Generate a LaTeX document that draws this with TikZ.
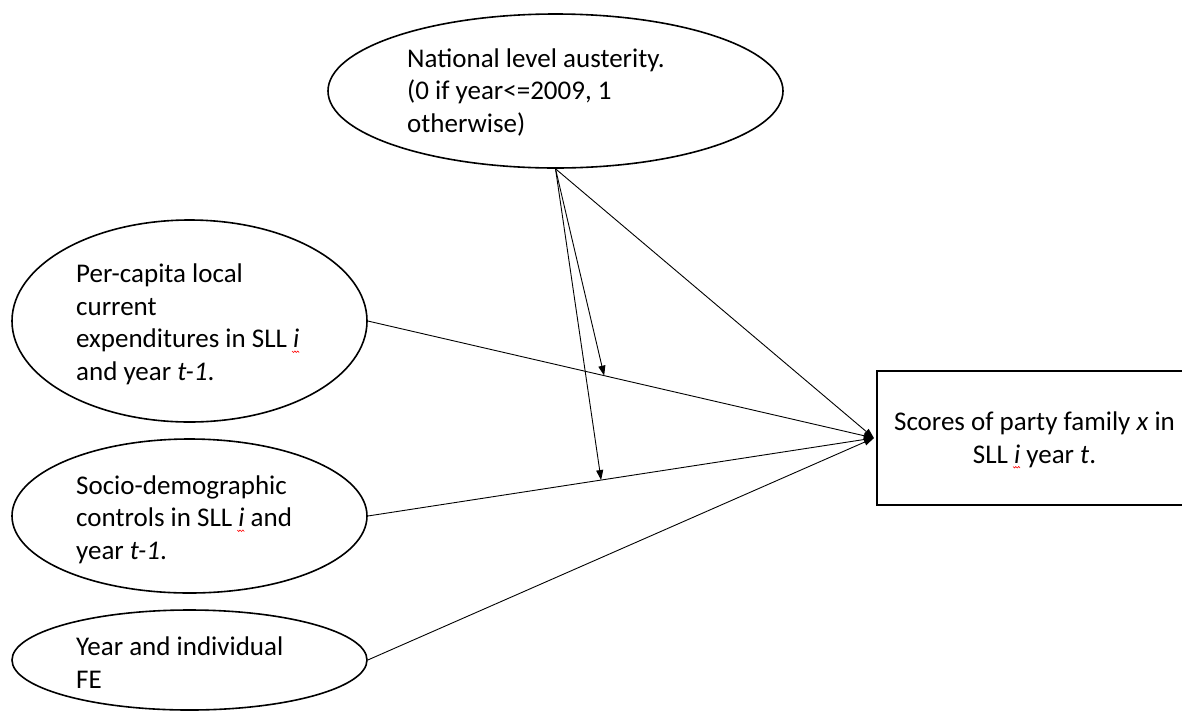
\documentclass[tikz,border=0pt]{standalone}
\usepackage{fontspec}
\setmainfont{Carlito}
\usetikzlibrary{shapes.geometric,arrows.meta,calc}
\newcommand\spellmark[1]{#1\llap{\tikz[x=1pt,y=1pt,baseline=0pt]\draw[red,line width=0.6pt] (0,-3.5)--(1.4,-5)--(2.8,-3.5)--(4.2,-5)--(5.6,-3.5)--(7,-5);}}
\tikzset{
  oval/.style={ellipse, draw, line width=1.6pt, inner sep=0pt},
  txt/.style={inner sep=0pt, align=left, font=\fontsize{27}{32.5}\selectfont},
  link/.style={line width=0.9pt, -{Triangle[length=10pt,width=7pt]}},
}
\begin{document}
\begin{tikzpicture}[x=1pt,y=-1pt]
\useasboundingbox (0,0) rectangle (1182,713);
\clip (0,0) rectangle (1182,713);
\node[oval, minimum width=455pt, minimum height=154pt] (e0) at (555.5,91) {};
\node[oval, minimum width=355pt, minimum height=202pt] (e1) at (189.5,321) {};
\node[oval, minimum width=355pt, minimum height=154pt] (e2) at (189.5,516) {};
\node[oval, minimum width=355pt, minimum height=100pt] (e3) at (189.5,660) {};
\node[draw, line width=2.2pt, minimum width=315pt, minimum height=134pt, inner sep=0pt] (box) at (1034.5,438) {};

% anchors at the baseline of the last line
\node[txt, anchor=base west] (t0) at (407,132) {National level austerity.\\(0 if year<=2009, 1\\otherwise)};
\node[txt, anchor=base west] (t1) at (76,380) {Per-capita local\\current\\expenditures in SLL \spellmark{\textit{i}}\\and year \textit{t-1}.};
\node[txt, anchor=base west] (t2) at (76,559) {Socio-demographic\\controls in SLL \spellmark{\textit{i}} and\\year \textit{t-1}.};
\node[txt, anchor=base west] (t3) at (76,688) {Year and individual\\FE};
\node[txt, align=center, anchor=base] (t4) at (1034.5,463) {Scores of party family \textit{x} in\\SLL \spellmark{\textit{i}} year \textit{t}.};

\coordinate (tgt) at ($(box.west)+(-2,0)$);
\coordinate (m1) at ($(e1.east)!0.467!(tgt)$);
\coordinate (m2) at ($(e2.east)!0.461!(tgt)$);
\draw[link] (e1.east) -- (tgt);
\draw[link] (e2.east) -- (tgt);
\draw[link] (e3.east) -- (tgt);
\draw[link] (e0.south) -- (tgt);
\draw[link] (e0.south) -- (m1);
\draw[link] (e0.south) -- (m2);
\end{tikzpicture}
\end{document}
